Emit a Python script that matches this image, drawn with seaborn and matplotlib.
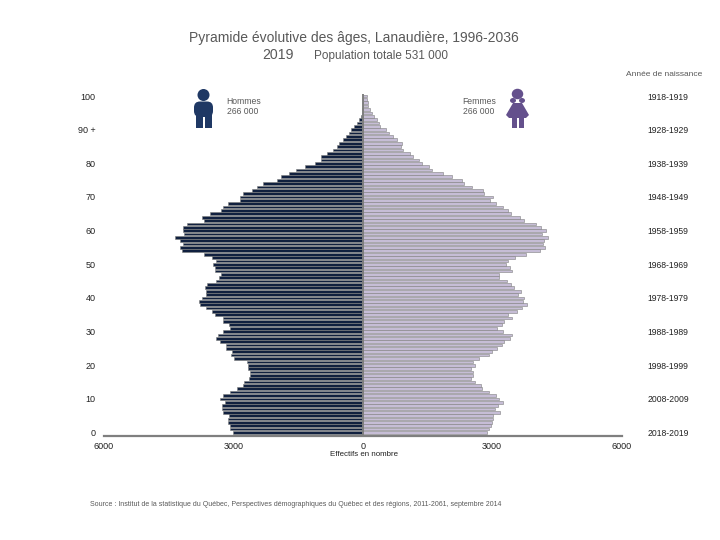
import matplotlib
matplotlib.use("Agg")
import matplotlib.pyplot as plt
from matplotlib.patches import Ellipse, Polygon, Rectangle, FancyBboxPatch
import numpy as np
import pandas as pd
import seaborn as sns

ages = list(range(100, -1, -1))
hommes = [5, 5, 5, 5, 10, 23, 46, 93, 139, 201,
          279, 325, 387, 449, 557, 604, 697, 820, 960, 975,
          1099, 1331, 1548, 1718, 1889, 1997, 2307, 2446, 2570, 2771,
          2841, 2841, 3135, 3235, 3282, 3537, 3723, 3677, 4071, 4164,
          4164, 4141, 4350, 4234, 4164, 4234, 4195, 3677, 3491, 3398,
          3468, 3421, 3421, 3282, 3328, 3398, 3607, 3653, 3630, 3630,
          3723, 3793, 3769, 3630, 3491, 3421, 3251, 3235, 3111, 3073,
          3251, 3351, 3398, 3305, 3166, 3166, 3026, 3050, 2980, 2694,
          2670, 2670, 2608, 2608, 2647, 2748, 2771, 2910, 3073, 3235,
          3305, 3204, 3259, 3259, 3235, 3111, 3119, 3119, 3088, 3073, 3003]
femmes = [93, 93, 116, 116, 163, 209, 255, 325, 372, 395,
          534, 604, 697, 789, 906, 882, 929, 1091, 1161, 1300,
          1370, 1533, 1602, 1858, 2067, 2299, 2345, 2531, 2786, 2810,
          3019, 2949, 3088, 3251, 3367, 3437, 3646, 3738, 4017, 4133,
          4249, 4156, 4296, 4203, 4180, 4226, 4110, 3785, 3529, 3367,
          3320, 3413, 3460, 3158, 3158, 3344, 3437, 3506, 3669, 3599,
          3738, 3715, 3808, 3692, 3576, 3367, 3460, 3274, 3228, 3111,
          3251, 3460, 3413, 3274, 3228, 3111, 2995, 2926, 2694, 2554,
          2601, 2508, 2554, 2554, 2508, 2601, 2740, 2763, 2926, 3088,
          3158, 3251, 3135, 3065, 3181, 3019, 3019, 2995, 2972, 2926, 2879]
age_ticks = [0, 10, 20, 30, 40, 50, 60, 70, 80, 90, 100]
age_labels = ["0", "10", "20", "30", "40", "50", "60", "70", "80", "90 +", "100"]
birth_labels = ["2018-2019", "2008-2009", "1998-1999", "1988-1989", "1978-1979",
                "1968-1969", "1958-1959", "1948-1949", "1938-1939", "1928-1929", "1918-1919"]
effectif_ticks = [-6000, -3000, 0, 3000, 6000]
effectif_labels = ["6000", "3000", "0", "3000", "6000"]

sns.set_theme(style="white")
plt.rcParams["font.family"] = ["Liberation Sans", "DejaVu Sans"]

W, H = 720, 540
fig = plt.figure(figsize=(W / 100, H / 100), dpi=100, facecolor="white")
left, right, top, bottom = 104, 621.5, 90, 436
ax = fig.add_axes([left / W, 1 - bottom / H, (right - left) / W, (bottom - top) / H])

df = pd.DataFrame({"age": ages, "Hommes": [-v for v in hommes], "Femmes": femmes})
GRIS = "#7f7f7f"
sns.barplot(data=df, x="Hommes", y="age", orient="y", native_scale=True, ax=ax,
            color="#10203f", saturation=1, width=0.8, edgecolor=GRIS, linewidth=0.4)
sns.barplot(data=df, x="Femmes", y="age", orient="y", native_scale=True, ax=ax,
            color="#c6bdd6", saturation=1, width=0.8, edgecolor=GRIS, linewidth=0.4)

ax.set_xlim(-6000, 6000)
ax.set_ylim(-1.04, 101.8)
ax.set_xlabel("")
ax.set_ylabel("")
for s in ["top", "left", "right"]:
    ax.spines[s].set_visible(False)
ax.spines["bottom"].set_color(GRIS)
ax.spines["bottom"].set_linewidth(1.6)
ax.vlines(0, -1.04, max(ages) + 0.5, color=GRIS, lw=1.4, zorder=5)

ax.set_xticks(effectif_ticks, effectif_labels)
ax.set_yticks(age_ticks, age_labels)
ax.tick_params(axis="x", length=0, pad=4, labelsize=6.5, colors="#222222")
ax.tick_params(axis="y", length=0, pad=6, labelsize=6.5, colors="#222222")

sec = ax.secondary_yaxis("right")
sec.set_yticks(age_ticks, birth_labels)
sec.tick_params(axis="y", length=0, pad=19, labelsize=6.2, colors="#222222")
sec.spines["right"].set_visible(False)

# Couche en pixels pour les textes et les pictogrammes
ov = fig.add_axes([0, 0, 1, 1], facecolor="none")
ov.set_xlim(0, W)
ov.set_ylim(H, 0)
ov.axis("off")

GT = "#595959"
ov.text(353.5, 38, "Pyramide évolutive des âges, Lanaudière, 1996-2036", ha="center", va="center",
        fontsize=10, color=GT)
ov.text(278, 55, "2019", ha="center", va="center", fontsize=10.2, color=GT)
ov.text(381, 55.5, "Population totale 531 000", ha="center", va="center", fontsize=8.5, color=GT)
ov.text(664.5, 74, "Année de naissance", ha="center", va="center", fontsize=6, color=GT)
ov.text(226, 101, "Hommes", ha="left", va="center", fontsize=6.2, color=GT)
ov.text(227, 111, "266 000", ha="left", va="center", fontsize=6.2, color=GT)
ov.text(462, 101, "Femmes", ha="left", va="center", fontsize=6.2, color=GT)
ov.text(463, 111, "266 000", ha="left", va="center", fontsize=6.2, color=GT)
ov.text(364, 454, "Effectifs en nombre", ha="center", va="center", fontsize=5.7, color="#222222")
ov.text(90, 504, "Source : Institut de la statistique du Québec, Perspectives démographiques du Québec et des régions, 2011-2061, septembre 2014",
        ha="left", va="center", fontsize=5.06, color=GT)

# Pictogramme homme
BLEU = "#1f3864"
ov.add_patch(Ellipse((203.5, 95), 12, 12, color=BLEU, lw=0))
ov.add_patch(FancyBboxPatch((194, 101.5), 19, 15.5, boxstyle="round,pad=0,rounding_size=6", color=BLEU, lw=0))
ov.add_patch(Rectangle((196, 112), 7, 16, color=BLEU, lw=0))
ov.add_patch(Rectangle((204.5, 112), 7, 16, color=BLEU, lw=0))

# Pictogramme femme
VIOLET = "#64508c"
ov.add_patch(Ellipse((517.5, 94), 11.5, 10.5, color=VIOLET, lw=0))
ov.add_patch(Ellipse((513, 100.5), 6, 5, color=VIOLET, lw=0))
ov.add_patch(Ellipse((522, 100.5), 6, 5, color=VIOLET, lw=0))
ov.add_patch(Polygon([(513, 103), (522, 103), (529, 115), (526, 118), (509, 118), (506, 115)],
                     closed=True, color=VIOLET, lw=0))
ov.add_patch(Rectangle((512, 117), 5, 11, color=VIOLET, lw=0))
ov.add_patch(Rectangle((518.5, 117), 5, 11, color=VIOLET, lw=0))

fig.savefig("out.png", dpi=100, facecolor="white")
